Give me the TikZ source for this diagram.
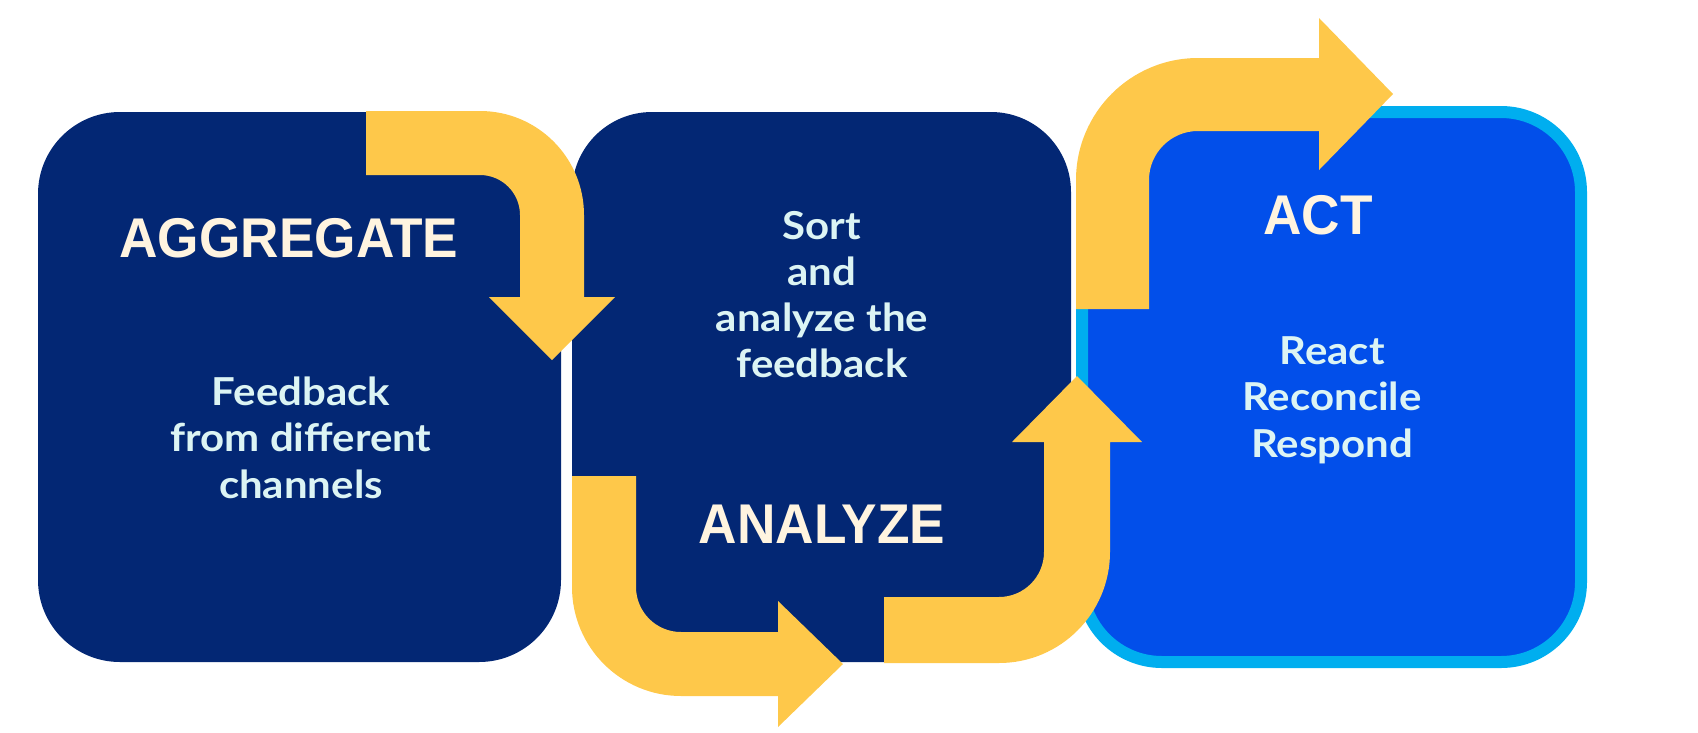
\documentclass[tikz,border=0pt]{standalone}
\usepackage{fontspec}
\newfontfamily\headfont{Liberation Sans}[FakeStretch=0.95]
\newfontfamily\bodyfont{Lato}[FakeStretch=1.09]
\definecolor{navy}{RGB}{3,39,116}
\definecolor{gold}{RGB}{254,200,74}
\definecolor{actblue}{RGB}{2,79,234}
\definecolor{skyline}{RGB}{0,174,239}
\definecolor{headtxt}{RGB}{255,244,224}
\definecolor{bodytxt}{RGB}{220,244,244}
\tikzset{
  panel/.style={rectangle, rounded corners=80pt, inner sep=0pt, outer sep=0pt, minimum height=550pt},
  darkpanel/.style={panel, fill=navy},
  actpanel/.style={panel, fill=actblue, draw=skyline, line width=12pt},
  bigarrow/.style={fill=gold, draw=none},
  heading/.style={inner sep=0pt, anchor=base, text=headtxt, font=\headfont\bfseries\fontsize{56}{60}\selectfont},
  bodyline/.style={inner sep=0pt, anchor=base, text=bodytxt, font=\bodyfont\bfseries\fontsize{38.5}{46}\selectfont}
}
\begin{document}
\begin{tikzpicture}[x=1pt,y=-1pt]
\useasboundingbox (0,0) rectangle (1698,732);
% panels
\node[darkpanel, minimum width=523pt, rounded corners=82pt] (agg) at (299.5,387) {};
\node[darkpanel, minimum width=499pt] (ana) at (821.5,387) {};
\node[actpanel, minimum width=499pt] (act) at (1331.5,387) {};
% arrow 1: aggregate -> analyze
\fill[bigarrow] (366,111) -- (480,111) arc[start angle=-90, end angle=0, radius=104]
  -- (584,297) -- (615,297) -- (552,360) -- (489,297) -- (520,297) -- (520,215)
  arc[start angle=0, end angle=-90, radius=40] -- (366,175) -- cycle;
% arrow 2: down and right under analyze
\fill[bigarrow] (572,476) -- (572,587) arc[start angle=180, end angle=90, radius=109]
  -- (778,696) -- (778,727) -- (843,664) -- (778,601) -- (778,632) -- (681,632)
  arc[start angle=90, end angle=180, radius=45] -- (636,476) -- cycle;
% arrow 3: right and up
\fill[bigarrow] (884,663) -- (999,663) arc[start angle=90, end angle=0, radius=111]
  -- (1110,442) -- (1142,442) -- (1077,376) -- (1012,442) -- (1044,442) -- (1044,552)
  arc[start angle=0, end angle=90, radius=45] -- (884,597) -- cycle;
% arrow 4: up and right over act
\fill[bigarrow] (1076,309) -- (1076,180) arc[start angle=180, end angle=270, radius=122]
  -- (1319,58) -- (1319,18) -- (1393,94) -- (1319,170) -- (1319,131) -- (1198,131)
  arc[start angle=270, end angle=180, radius=49] -- (1149,309) -- cycle;
% headings
\node[heading] (hagg) at (289,257) {AGGREGATE};
\node[heading] (hana) at (822,543) {ANALYZE};
\node[heading] (hact) at (1318,234) {ACT};
% body text
\node[bodyline] (a1) at (301,405) {Feedback};
\node[bodyline] (a2) at (301,451) {from different};
\node[bodyline] (a3) at (301,498) {channels};
\node[bodyline] (b1) at (822,239) {Sort};
\node[bodyline] (b2) at (822,285) {and};
\node[bodyline] (b3) at (822,331) {analyze the};
\node[bodyline] (b4) at (822,377) {feedback};
\node[bodyline] (c1) at (1332,364) {React};
\node[bodyline] (c2) at (1332,410) {Reconcile};
\node[bodyline] (c3) at (1332,457) {Respond};
\end{tikzpicture}
\end{document}
